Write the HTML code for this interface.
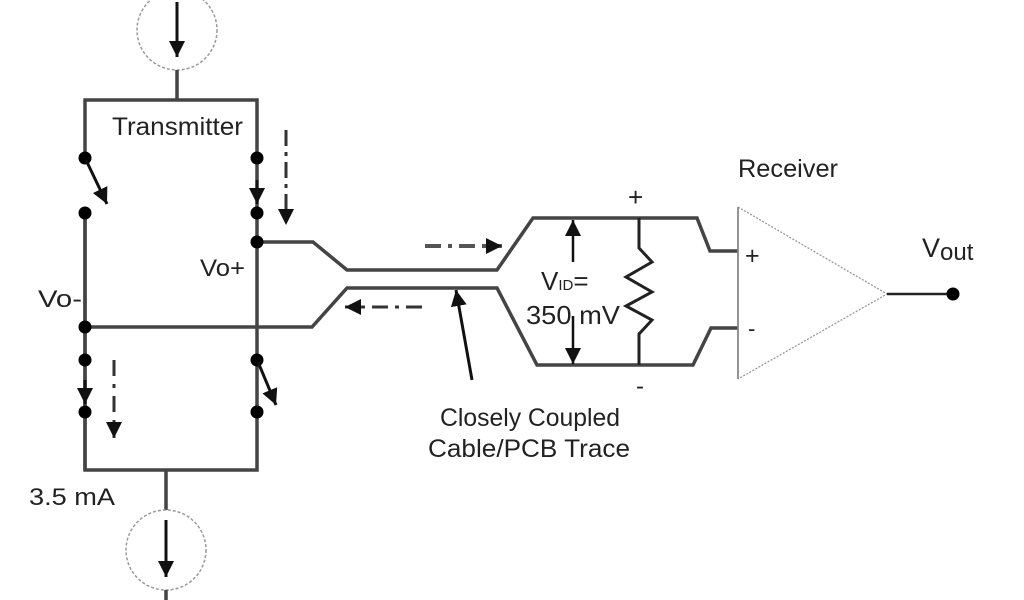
<!DOCTYPE html>
<html><head><meta charset="utf-8"><style>
html,body{margin:0;padding:0;background:#fff;}
svg{display:block;}
text{font-family:"Liberation Sans",sans-serif;fill:#222;}
</style></head><body>
<svg width="1024" height="600" viewBox="0 0 1024 600" xmlns="http://www.w3.org/2000/svg">
<defs>
<marker id="ah" markerWidth="18" markerHeight="18" refX="16" refY="8" orient="auto" markerUnits="userSpaceOnUse"><path d="M0,0 L16,8 L0,16 Z" fill="#111"/></marker>
</defs>
<g stroke="#444" stroke-width="3.5" fill="none">
<circle cx="177" cy="30" r="40" stroke="#999" stroke-width="1.5" stroke-dasharray="3,2"/>
<line x1="177" y1="70" x2="177" y2="100"/>
<polyline points="85,158 85,100 257,100 257,470 85,470 85,213"/>
<line x1="85" y1="213" x2="85" y2="470"/>
<line x1="166" y1="470" x2="166" y2="510"/>
<circle cx="166" cy="550" r="40" stroke="#999" stroke-width="1.5" stroke-dasharray="3,2"/>
<line x1="166" y1="590" x2="166" y2="600"/>
<polyline points="257,242 313,242 347,270 497,270 533,218 697,218 710,251 738,251"/>
<polyline points="85,327 312,327 347,288 497,288 537,365 693,365 711,328 738,328"/>
<polyline points="639,218 639,248 652,262 626,277 652,292 626,306 652,320 639,334 639,365" stroke-width="3" stroke="#222"/>
<line x1="738" y1="207" x2="738" y2="379" stroke="#888" stroke-width="1.8"/>
<polyline points="738,207 887,294 738,379" stroke="#999" stroke-width="1.3" stroke-dasharray="2,1.5"/>
<line x1="887" y1="294" x2="953" y2="294" stroke="#222" stroke-width="2.5"/>
</g>
<g fill="#000">
<circle cx="953" cy="294" r="6.5"/>
<circle cx="85" cy="158" r="6.5"/><circle cx="85" cy="213" r="6.5"/>
<circle cx="257" cy="158" r="6.5"/><circle cx="257" cy="213" r="6.5"/><circle cx="257" cy="242" r="6.5"/>
<circle cx="85" cy="327" r="6.5"/><circle cx="85" cy="360" r="6.5"/><circle cx="85" cy="412" r="6.5"/>
<circle cx="257" cy="360" r="6.5"/><circle cx="257" cy="412" r="6.5"/>
</g>
<g stroke="#111" stroke-width="3" fill="none">
<line x1="177" y1="2" x2="177" y2="57" marker-end="url(#ah)"/>
<line x1="166" y1="520" x2="166" y2="577" marker-end="url(#ah)"/>
<line x1="86" y1="160" x2="107" y2="204" marker-end="url(#ah)"/>
<line x1="258" y1="362" x2="276" y2="405" marker-end="url(#ah)"/>
<line x1="257" y1="180" x2="257" y2="204" marker-end="url(#ah)"/>
<line x1="85" y1="380" x2="85" y2="404" marker-end="url(#ah)"/>
<line x1="286" y1="130" x2="286" y2="225" stroke-dasharray="16,6,4,6" marker-end="url(#ah)" stroke="#333"/>
<line x1="114" y1="360" x2="114" y2="438" stroke-dasharray="16,8,4,8" marker-end="url(#ah)" stroke="#333"/>
<line x1="425" y1="246" x2="502" y2="246" stroke-dasharray="16,7,4,7" marker-end="url(#ah)" stroke="#555" stroke-width="4"/>
<line x1="422" y1="307" x2="345" y2="307" stroke-dasharray="16,7,4,7" marker-end="url(#ah)" stroke="#333"/>
<line x1="472" y1="380" x2="456" y2="290" marker-end="url(#ah)"/>
<line x1="573" y1="262" x2="573" y2="220" marker-end="url(#ah)" stroke-width="2.5"/>
<line x1="573" y1="316" x2="573" y2="364" marker-end="url(#ah)" stroke-width="2.5"/>
</g>
<text x="112" y="135" font-size="25" textLength="131" lengthAdjust="spacingAndGlyphs">Transmitter</text>
<text x="200" y="276" font-size="24" textLength="45" lengthAdjust="spacingAndGlyphs">Vo+</text>
<text x="38" y="307" font-size="24" textLength="44" lengthAdjust="spacingAndGlyphs">Vo-</text>
<text x="29" y="505" font-size="24" textLength="86" lengthAdjust="spacingAndGlyphs">3.5 mA</text>
<text x="541" y="290" font-size="26">V<tspan font-size="15">ID</tspan>=</text>
<text x="526" y="324" font-size="26" textLength="94" lengthAdjust="spacingAndGlyphs">350 mV</text>
<text x="628" y="206" font-size="26">+</text>
<text x="636" y="394" font-size="24">-</text>
<text x="738" y="177" font-size="25" textLength="100" lengthAdjust="spacingAndGlyphs">Receiver</text>
<text x="745" y="264" font-size="25">+</text>
<text x="748" y="336" font-size="22">-</text>
<text x="922" y="257" font-size="27">V<tspan font-size="24" dy="3">out</tspan></text>
<text x="440" y="426" font-size="25" textLength="180" lengthAdjust="spacingAndGlyphs">Closely Coupled</text>
<text x="428" y="457" font-size="25" textLength="202" lengthAdjust="spacingAndGlyphs">Cable/PCB Trace</text>
</svg>
</body></html>
